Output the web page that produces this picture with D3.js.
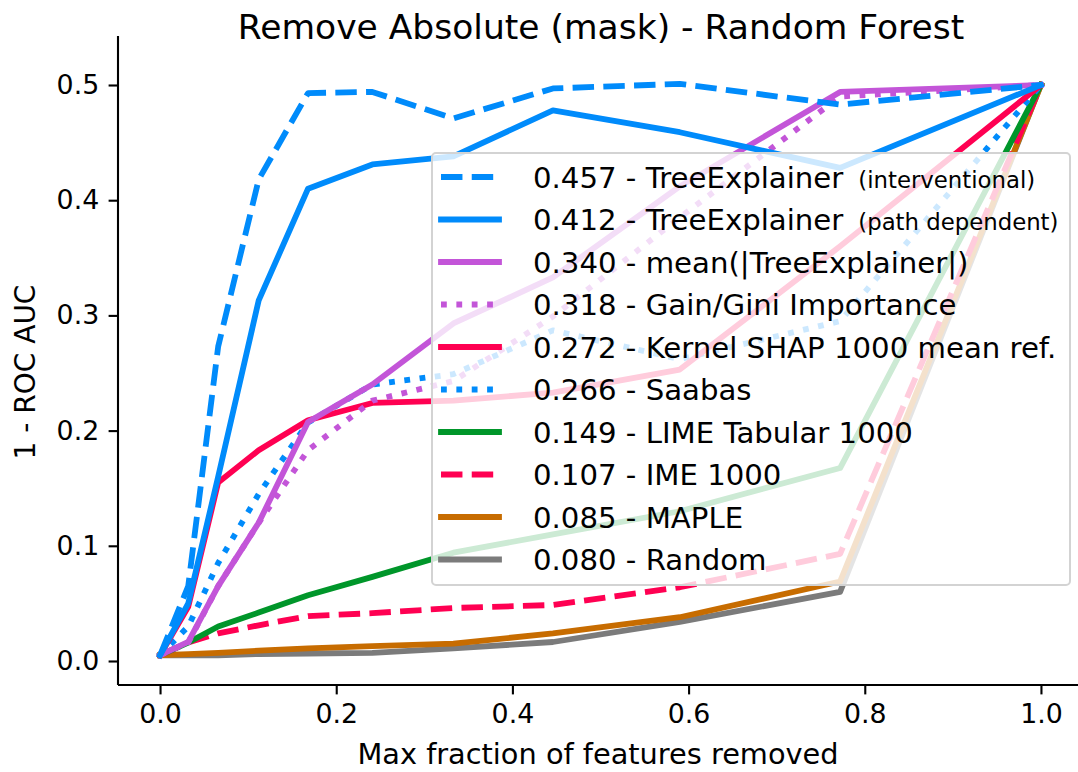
<!DOCTYPE html>
<html>
<head>
<meta charset="utf-8">
<script src="https://cdn.jsdelivr.net/npm/d3@7"></script>
<style>
  html, body { margin: 0; padding: 0; background: #fff; }
  svg { display: block; font-family: "DejaVu Sans", sans-serif; }
</style>
</head>
<body>
<svg id="chart" width="1078" height="772"></svg>
<script>
// Fraction of features removed at each evaluation step
const fractions = [0, 0.032, 0.066, 0.112, 0.168, 0.241, 0.333, 0.446, 0.59, 0.772, 1.0];

// 1 - ROC AUC for each explanation method
const treeInterventional = [0.005, 0.065, 0.273, 0.418, 0.493, 0.494, 0.471, 0.497, 0.501, 0.483, 0.5];
const treePathDependent  = [0.005, 0.050, 0.160, 0.313, 0.410, 0.431, 0.438, 0.478, 0.459, 0.428, 0.5];
const meanAbsTree        = [0.005, 0.0165, 0.065, 0.120, 0.2075, 0.240, 0.293, 0.333, 0.412, 0.494, 0.5];
const gainGini           = [0.005, 0.016, 0.065, 0.120, 0.183, 0.226, 0.243, 0.299, 0.385, 0.490, 0.5];
const kernelShap         = [0.005, 0.047, 0.155, 0.183, 0.209, 0.224, 0.226, 0.233, 0.253, 0.360, 0.5];
const saabas             = [0.005, 0.030, 0.085, 0.145, 0.207, 0.240, 0.249, 0.287, 0.262, 0.295, 0.5];
const limeTabular        = [0.005, 0.016, 0.030, 0.042, 0.057, 0.073, 0.094, 0.110, 0.130, 0.1675, 0.5];
const ime                = [0.005, 0.016, 0.024, 0.031, 0.039, 0.0415, 0.046, 0.0486, 0.064, 0.093, 0.5];
const maple              = [0.005, 0.006, 0.007, 0.009, 0.011, 0.013, 0.015, 0.024, 0.038, 0.069, 0.5];
const randomBaseline     = [0.005, 0.005, 0.005, 0.006, 0.0065, 0.007, 0.011, 0.0165, 0.034, 0.060, 0.5];

// Legend entries (area under the curve score, method name, small qualifier)
const scores = ["0.457", "0.412", "0.340", "0.318", "0.272", "0.266", "0.149", "0.107", "0.085", "0.080"];
const methodNames = ["TreeExplainer", "TreeExplainer", "mean(|TreeExplainer|)", "Gain/Gini Importance",
  "Kernel SHAP 1000 mean ref.", "Saabas", "LIME Tabular 1000", "IME 1000", "MAPLE", "Random"];
const qualifiers = ["(interventional)", "(path dependent)", "", "", "", "", "", "", "", ""];

const xTicks = [0.0, 0.2, 0.4, 0.6, 0.8, 1.0];
const yTicks = [0.0, 0.1, 0.2, 0.3, 0.4, 0.5];

const seriesValues = [treeInterventional, treePathDependent, meanAbsTree, gainGini, kernelShap,
  saabas, limeTabular, ime, maple, randomBaseline];
const colors = ["#008bfb", "#008bfb", "#c355d8", "#c355d8", "#ff0052", "#008bfb", "#00962a", "#ff0052", "#c76c00", "#7b7b7b"];
const styles = ["dashed", "solid", "solid", "dotted", "solid", "dotted", "solid", "dashed", "solid", "solid"];

const LW = 5.8;
const dashFor = s => s === "dashed" ? `${3.7 * LW},${1.6 * LW}` : s === "dotted" ? `${LW},${1.65 * LW}` : null;

const svg = d3.select("#chart");
const plot = { left: 118, right: 1078, top: 36, bottom: 685 };

const x = d3.scaleLinear().domain([-0.05, 1.05]).range([116, 1085]);
const y = d3.scaleLinear().domain([0, 0.5]).range([661, 85]);

// Axes (left and bottom spines only)
const tickLen = 9.4, tickPad = 9.4;
const xAxis = svg.append("g").attr("transform", `translate(0,${plot.bottom})`)
  .call(d3.axisBottom(x).tickValues(xTicks).tickFormat(d3.format(".1f")).tickSizeOuter(0).tickSize(tickLen).tickPadding(tickPad));
xAxis.select(".domain").attr("d", `M${plot.left},0H${plot.right}`);
const yAxis = svg.append("g").attr("transform", `translate(${plot.left},0)`)
  .call(d3.axisLeft(y).tickValues(yTicks).tickFormat(d3.format(".1f")).tickSizeOuter(0).tickSize(tickLen).tickPadding(tickPad));
yAxis.select(".domain").attr("d", `M0,${plot.top}V${plot.bottom}`);
svg.selectAll(".domain").attr("stroke", "#000").attr("stroke-width", 2.1);
svg.selectAll(".tick line").attr("stroke", "#000").attr("stroke-width", 2.1);
svg.selectAll(".tick text").attr("font-family", "DejaVu Sans").attr("font-size", 26.8).attr("fill", "#000");

// Lines, drawn from last legend entry to first so the top-ranked method sits on top
const line = d3.line().x((d, i) => x(fractions[i])).y(d => y(d));
const order = d3.range(seriesValues.length).reverse();
const linesG = svg.append("g");
order.forEach(i => {
  linesG.append("path")
    .datum(seriesValues[i])
    .attr("d", line)
    .attr("fill", "none")
    .attr("stroke", colors[i])
    .attr("stroke-width", LW)
    .attr("stroke-linejoin", "round")
    .attr("stroke-linecap", styles[i] === "solid" ? "square" : "butt")
    .attr("stroke-dasharray", dashFor(styles[i]));
});

// Legend
const legend = svg.append("g");
const lg = { x: 432, y: 153, w: 638, h: 432, rowTop: 177, rowStep: 42.5 };
const mainSize = 29.2, smallSize = 22.8;
const baselineShift = 0.36 * mainSize;
legend.append("rect")
  .attr("x", lg.x).attr("y", lg.y).attr("width", lg.w).attr("height", lg.h)
  .attr("rx", 4).attr("ry", 4)
  .attr("fill", "rgba(255,255,255,0.8)")
  .attr("stroke", "#d3d3d3").attr("stroke-width", 2);
scores.forEach((s, i) => {
  const cy = lg.rowTop + i * lg.rowStep;
  legend.append("line")
    .attr("x1", 441).attr("x2", 499).attr("y1", cy).attr("y2", cy)
    .attr("stroke", colors[i]).attr("stroke-width", LW)
    .attr("stroke-linecap", styles[i] === "solid" ? "square" : "butt")
    .attr("stroke-dasharray", dashFor(styles[i]));
  const main = legend.append("text")
    .attr("x", 533).attr("y", cy + baselineShift)
    .attr("font-size", mainSize).attr("fill", "#000")
    .text(`${s} - ${methodNames[i]}`);
  if (qualifiers[i]) {
    const w = main.node().getComputedTextLength();
    legend.append("text")
      .attr("x", 533 + w + 15).attr("y", cy + baselineShift)
      .attr("font-size", smallSize).attr("fill", "#000")
      .text(qualifiers[i]);
  }
});

// Title and axis labels
svg.append("text").attr("x", 601).attr("y", 39).attr("text-anchor", "middle")
  .attr("font-size", 34.5).attr("fill", "#000").text("Remove Absolute (mask) - Random Forest");
svg.append("text").attr("x", 598).attr("y", 764).attr("text-anchor", "middle")
  .attr("font-size", 28.8).attr("fill", "#000").text("Max fraction of features removed");
svg.append("text").attr("transform", "translate(35,372) rotate(-90)").attr("text-anchor", "middle")
  .attr("font-size", 28).attr("fill", "#000").text("1 - ROC AUC");
</script>
</body>
</html>
